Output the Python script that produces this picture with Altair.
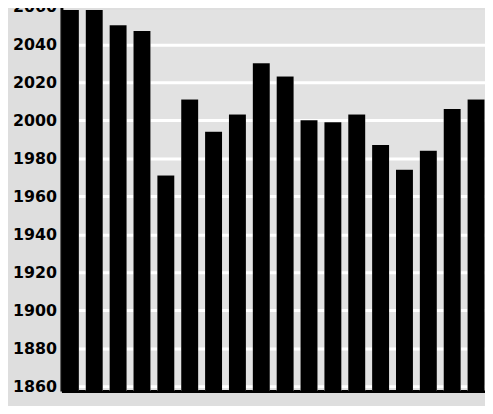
import altair as alt
import pandas as pd

positions = [f"{i:02d}" for i in range(1, 19)]
values = [2070, 2070, 2050, 2047, 1971, 2011, 1994, 2003, 2030,
          2023, 2000, 1999, 2003, 1987, 1974, 1984, 2006, 2011]
tick_values = [1860, 1880, 1900, 1920, 1940, 1960, 1980, 2000, 2020, 2040, 2060]

df = pd.DataFrame({"pos": positions, "value": values})

y_scale = alt.Scale(domain=[1857.5, 2060], range=[385, -3.8], zero=False, nice=False)
x_scale = alt.Scale(paddingInner=0.29, paddingOuter=0.02)

x_axis = alt.Axis(title=None, labels=False, ticks=False, grid=False,
                  domainColor="black", domainWidth=3)
y_axis = alt.Axis(title=None, values=tick_values, tickCount=11, format="d", ticks=False,
                  labelFont="DejaVu Sans", labelFontWeight="bold",
                  labelFontSize=16, labelColor="black", labelPadding=5,
                  labelOverlap=False, labelFlush=False, labelBound=False,
                  domainColor="black", domainWidth=3,
                  grid=True, gridColor="white", gridWidth=3)

base = alt.Chart(df)

gaps = base.mark_bar(color="white", width={"band": 1}, clip=True).encode(
    x=alt.X("pos:N", scale=x_scale, axis=x_axis),
    y=alt.Y("value:Q", scale=y_scale, axis=y_axis),
    y2=alt.Y2(datum=1857.5),
)

bars = base.mark_bar(color="black", clip=True).encode(
    x=alt.X("pos:N", scale=x_scale, axis=x_axis),
    y=alt.Y("value:Q", scale=y_scale, axis=y_axis),
    y2=alt.Y2(datum=1857.5),
)

chart = alt.layer(gaps, bars).properties(
    width=428,
    height=385,
    autosize=alt.AutoSizeParams(type="none"),
    padding={"left": 54, "top": 0, "right": 0, "bottom": 13},
    background="#dedede",
).configure_view(fill="#e2e2e2", stroke=None)

chart.save("out.html", embed_options={"renderer": "svg", "actions": False})
